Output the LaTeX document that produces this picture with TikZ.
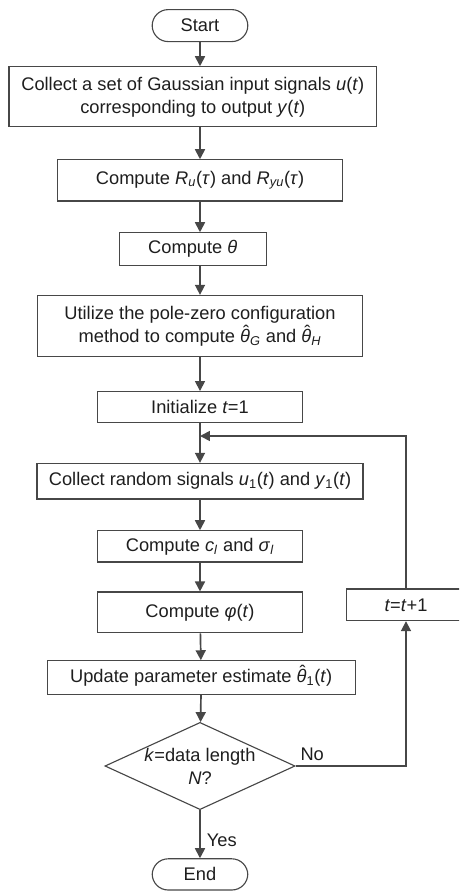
\documentclass[tikz,border=0pt]{standalone}
\usepackage{fontspec}
\setmainfont{Liberation Sans}
\usepackage{xcolor}
\usepackage{tikz}
\usetikzlibrary{shapes.geometric, arrows.meta}

\definecolor{flowline}{HTML}{474747}
\definecolor{flowtext}{HTML}{1E1E1E}
% theta with a hat on top
\newcommand{\thetahat}{\ooalign{\textit{θ}\cr\hidewidth\kern0.12em\raisebox{0.2em}{ˆ}\hidewidth\cr}}

\begin{document}
\begin{tikzpicture}[
    font=\fontsize{13}{16.4}\selectfont,
    text=flowtext,
    process/.style={rectangle, draw=flowline, line width=0.8pt, align=center, inner sep=2pt},
    terminal/.style={rectangle, draw=flowline, line width=0.8pt, rounded corners=0.4cm, minimum width=2.39cm, minimum height=0.8cm},
    decision/.style={diamond, draw=flowline, line width=0.8pt, align=center, inner sep=0pt, shape aspect=2.18, minimum width=4.58cm, minimum height=2.1cm},
    flow/.style={draw=flowline, line width=1.2pt, -{Triangle[length=2.5mm, width=2.5mm]}}
]
    \clip (-5,0) rectangle (6.475,-22.275);

    % Main column
    \node[terminal] (start) at (0,-0.64) {Start};
    \node[process, minimum width=9.19cm, minimum height=1.5cm] (collect) at (-0.18,-2.42)
        {Collect a set of Gaussian input signals \textit{u}(\textit{t})\\corresponding to output \textit{y}(\textit{t})};
    \node[process, minimum width=7.13cm, minimum height=1.03cm] (corr) at (0,-4.51)
        {Compute \textit{R}\textsubscript{\textit{u}}(\textit{τ}) and \textit{R}\textsubscript{\textit{yu}}(\textit{τ})};
    \node[process, minimum width=3.67cm, minimum height=0.82cm] (theta) at (-0.18,-6.23) {Compute \textit{θ}};
    \node[process, minimum width=8.14cm, minimum height=1.53cm] (polezero) at (0,-8.15)
        {Utilize the pole-zero configuration\\method to compute \thetahat\textsubscript{\textit{G}} and \thetahat\textsubscript{\textit{H}}};
    \node[process, minimum width=5.11cm, minimum height=0.78cm] (init) at (0,-10.18) {Initialize \textit{t}=1};
    \coordinate (loop) at (0,-10.9);
    \node[process, minimum width=8.15cm, minimum height=0.89cm] (random) at (0,-12.03)
        {Collect random signals \textit{u}\textsubscript{1}(\textit{t}) and \textit{y}\textsubscript{1}(\textit{t})};
    \node[process, minimum width=5.11cm, minimum height=0.78cm] (clsig) at (0,-13.66)
        {Compute \textit{c}\textsubscript{\textit{l}} and \textit{σ}\textsubscript{\textit{l}}};
    \node[process, minimum width=5.11cm, minimum height=1.02cm] (phi) at (0,-15.31) {Compute \textit{φ}(\textit{t})};
    \node[process, minimum width=7.7cm, minimum height=0.84cm] (update) at (0.03,-16.94)
        {Update parameter estimate \thetahat\textsubscript{1}(\textit{t})};
    \node[decision] (check) at (0,-19.15) {\textit{k}=data length\\\textit{N}?};
    \node[terminal, minimum height=0.78cm] (end) at (0,-21.86) {End};

    % Counter update on the right
    \node[process, minimum width=2.97cm, minimum height=0.79cm] (incr) at (5.15,-15.12) {\textit{t}=\textit{t}+1};

    % Connection Lines
    \draw[flow] (start) -- (start |- collect.north);
    \draw[flow] (start |- collect.south) -- (corr);
    \draw[flow] (corr) -- (corr |- theta.north);
    \draw[flow] (corr |- theta.south) -- (polezero);
    \draw[flow] (polezero) -- (init);
    \draw[flow] (init) -- (random);
    \draw[flow] (random) -- (clsig);
    \draw[flow] (clsig) -- (phi);
    \draw[flow] (phi) -- (update);
    \draw[flow] (update) -- (check);
    \draw[flow] (check) -- node[pos=0.62, right, xshift=1pt] {Yes} (end);
    \draw[flow] (check.east) -| node[pos=0.075, above] {No} (incr.south);
    \draw[flow] (incr.north) |- (loop);
\end{tikzpicture}
\end{document}
